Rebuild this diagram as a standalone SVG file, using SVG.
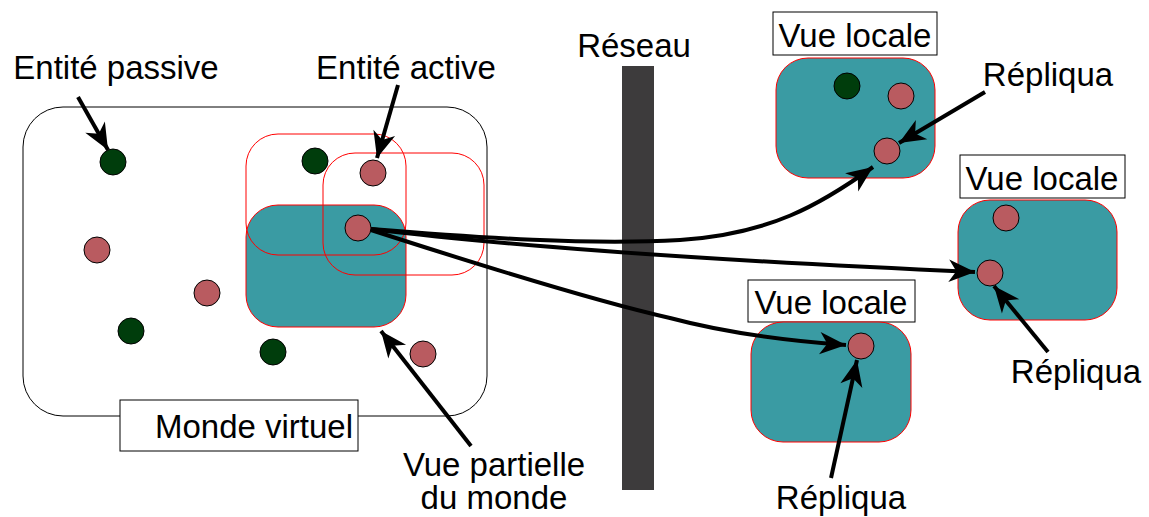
<svg xmlns="http://www.w3.org/2000/svg" width="1149" height="517" viewBox="0 0 1149 517">
<style>
text{font-family:"Liberation Sans",Arial,sans-serif;font-size:33px;fill:#000}
.teal{fill:#3a9ba3;stroke:#ff0000;stroke-width:1}
.zone{fill:none;stroke:#ff0000;stroke-width:1}
.red{fill:#b95b60;stroke:#000;stroke-width:1}
.green{fill:#003d0c;stroke:#000;stroke-width:1}
.lbl{fill:#fff;stroke:#000;stroke-width:1}
.arr{fill:none;stroke:#000;stroke-width:4;marker-end:url(#ah)}
</style>
<defs>
<marker id="ah" markerUnits="userSpaceOnUse" markerWidth="30" markerHeight="30" viewBox="-22 -10 24 20" refX="0" refY="0" orient="auto">
<path d="M0,0 L-21,-9 L-15,0 L-21,9 Z" fill="#000"/>
</marker>
</defs>
<rect width="1149" height="517" fill="#fff"/>
<g id="monde">
<rect x="23" y="107" width="464" height="309" rx="40" ry="40" fill="#fff" stroke="#000" stroke-width="1"/>
<rect class="lbl" x="120" y="400" width="238" height="51"/>
<text x="254" y="438" text-anchor="middle">Monde virtuel</text>
</g>
<g id="vue-partielle">
<rect class="teal" x="246" y="205" width="160" height="122" rx="32" ry="32"/>
<rect class="zone" x="246" y="134" width="160" height="121" rx="32" ry="32"/>
<rect class="zone" x="323" y="153" width="161" height="122" rx="32" ry="32"/>
</g>
<g id="entites">
<circle class="green" cx="113" cy="162" r="13"/>
<circle class="green" cx="315" cy="161" r="13"/>
<circle class="green" cx="131" cy="331" r="13"/>
<circle class="green" cx="273" cy="352" r="13"/>
<circle class="red" cx="373" cy="173" r="13"/>
<circle class="red" cx="358" cy="228" r="13"/>
<circle class="red" cx="97" cy="250" r="13"/>
<circle class="red" cx="207" cy="293" r="13"/>
<circle class="red" cx="423" cy="354" r="13"/>
</g>
<g id="reseau">
<rect x="622" y="66" width="32" height="424" fill="#3d3b3c"/>
<text x="634" y="57" text-anchor="middle">Réseau</text>
</g>
<g id="vue-locale-1">
<rect class="lbl" x="773" y="12" width="164" height="43"/>
<text x="855" y="47" text-anchor="middle">Vue locale</text>
<rect class="teal" x="776" y="58" width="159" height="120" rx="32" ry="32"/>
<circle class="green" cx="847" cy="86" r="13"/>
<circle class="red" cx="901" cy="96" r="13"/>
<circle class="red" cx="887" cy="151" r="13"/>
</g>
<g id="vue-locale-2">
<rect class="lbl" x="960" y="155" width="165" height="43"/>
<text x="1042" y="190" text-anchor="middle">Vue locale</text>
<rect class="teal" x="958" y="200" width="159" height="120" rx="32" ry="32"/>
<circle class="red" cx="1006" cy="218" r="13"/>
<circle class="red" cx="990" cy="273" r="13"/>
</g>
<g id="vue-locale-3">
<rect class="lbl" x="748" y="280" width="167" height="42"/>
<text x="831" y="314" text-anchor="middle">Vue locale</text>
<rect class="teal" x="751" y="322" width="160" height="120" rx="32" ry="32"/>
<circle class="red" cx="861" cy="346" r="13"/>
</g>
<g id="labels">
<text x="116" y="79" text-anchor="middle">Entité passive</text>
<text x="406" y="79" text-anchor="middle">Entité active</text>
<text text-anchor="middle"><tspan x="494" y="476">Vue partielle</tspan><tspan x="494" y="509">du monde</tspan></text>
<text x="1048" y="86" text-anchor="middle">Répliqua</text>
<text x="1076" y="383" text-anchor="middle">Répliqua</text>
<text x="841" y="509" text-anchor="middle">Répliqua</text>
</g>
<g id="connecteurs">
<path class="arr" d="M78,97 L108,150"/>
<path class="arr" d="M398,85 L377,158"/>
<path class="arr" d="M471,446 L381,331"/>
<path class="arr" d="M985,92 L899,143"/>
<path class="arr" d="M1048,352 L994,286"/>
<path class="arr" d="M831,478 L857,360"/>
<path class="arr" d="M371,229 C480,238 590,245 680,240 C770,234 820,205 873,167"/>
<path class="arr" d="M371,229 C500,245 700,260 975,272"/>
<path class="arr" d="M371,230 C470,262 590,300 670,318 C730,334 790,341 846,345"/>
</g>
</svg>
